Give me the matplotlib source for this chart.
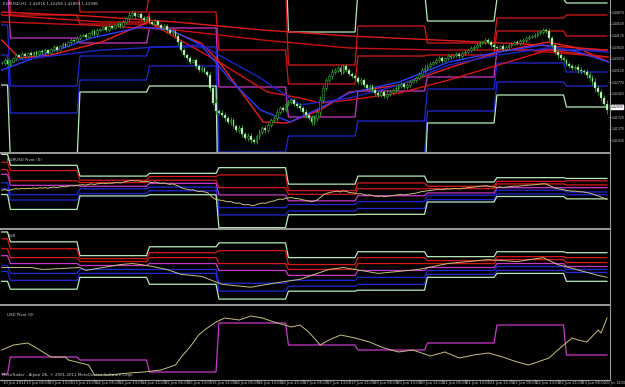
import numpy as np
import matplotlib
matplotlib.use("Agg")
import matplotlib.pyplot as plt
from matplotlib.lines import Line2D

# ---------------- data ----------------
close = [1.4334,1.4343,1.4331,1.4337,
         1.4349,1.4358,1.4352,1.4361,
         1.4355,1.4364,1.4358,1.4367,1.4361,1.4370,
         1.4367,1.4373,1.4364,1.4376,1.4382,1.4373,1.4385,
         1.4391,1.4385,1.4397,1.4403,1.4400,1.4409,1.4415,
         1.4418,1.4412,1.4424,1.4430,1.4421,1.4433,1.4436,
         1.4442,1.4433,1.4445,1.4439,1.4448,1.4451,1.4445,
         1.4457,1.4469,1.4478,1.4484,1.4475,1.4481,
         1.4469,1.4463,1.4472,1.4457,1.4451,1.4460,
         1.4448,1.4439,1.4445,1.4433,1.4424,1.4430,
         1.4415,1.4397,1.4373,1.4358,1.4349,
         1.4337,1.4343,1.4325,1.4313,1.4319,1.4307,
         1.4298,1.4260,1.4215,1.4190,1.4185,
         1.4178,1.4169,1.4157,1.4163,1.4145,
         1.4133,1.4139,1.4121,1.4109,1.4115,1.4103,1.4097,
         1.4115,1.4127,1.4139,1.4133,1.4148,
         1.4163,1.4169,1.4187,1.4199,1.4193,1.4211,1.4217,
         1.4223,1.4211,1.4205,1.4199,1.4187,1.4178,1.4169,
         1.4157,1.4169,1.4187,1.4223,
         1.4259,1.4283,1.4295,1.4307,
         1.4313,1.4319,1.4307,1.4325,1.4313,1.4301,
         1.4295,1.4289,1.4277,1.4283,1.4268,1.4259,1.4265,
         1.4253,1.4244,1.4238,1.4247,1.4235,1.4241,
         1.4247,1.4253,1.4259,1.4265,1.4271,1.4262,1.4268,
         1.4277,1.4283,1.4289,1.4301,1.4313,1.4319,
         1.4325,1.4331,1.4337,1.4343,1.4349,1.4340,
         1.4349,1.4355,1.4352,1.4358,1.4361,1.4355,1.4364,1.4367,
         1.4373,1.4379,1.4382,1.4388,1.4394,1.4397,1.4403,
         1.4397,1.4388,1.4382,1.4379,1.4385,1.4376,1.4382,
         1.4388,1.4391,1.4397,1.4394,1.4400,1.4403,1.4409,
         1.4412,1.4415,1.4418,1.4424,1.4427,1.4433,1.4430,
         1.4409,1.4388,1.4367,1.4358,1.4349,1.4343,
         1.4331,1.4325,1.4319,1.4322,1.4313,1.4310,1.4307,
         1.4298,1.4289,1.4277,1.4259,1.4247,1.4229,1.4211,1.4193]

wick_pips = [4,6,3,5,4,7,3,5,6,4, 5,3,6,4,5,7,4,3,6,5, 4,6,5,3,7,4,5,6,3,5,
             4,6,5,7,3,4,6,5,4,3, 6,5,7,4,8,5,6,4,5,7, 4,6,3,5,4,6,5,7,4,6,
             5,8,6,7,5,6,4,7,5,6, 4,7,9,8,10,6,7,8,6,9, 7,6,8,9,7,10,8,6,7,9,
             6,8,7,5,6,8,7,6,5,7, 6,5,7,8,6,9,7,10,8,9, 11,8,7,6,9,7,6,8,5,7,
             6,5,7,6,8,5,6,7,5,6, 7,5,6,8,5,7,6,5,7,6, 5,6,4,7,5,6,8,5,6,4,
             5,7,6,4,5,6,4,5,7,5, 6,4,5,7,6,5,4,6,5,7, 5,6,4,5,6,7,5,4,6,5,
             6,5,7,4,6,5,7,6,5,8, 7,6,8,5,7,6,5,7,6,8, 9,7,10,8,9,11,8,9,10,12]

bars_per_day = [3, 24, 24, 24, 24, 24, 24, 24, 24, 15]   # 10 Jun .. 23 Jun

# daily pivot levels (EURUSD)
piv_R3 = [1.4883, 1.4715, 1.4550, 1.4592, 1.4679, 1.4427, 1.4550, 1.4460, 1.4526, 1.4514]
piv_R2 = [1.4763, 1.4634, 1.4487, 1.4544, 1.4568, 1.4328, 1.4445, 1.4394, 1.4469, 1.4478]
piv_R1 = [1.4649, 1.4478, 1.4451, 1.4487, 1.4373, 1.4271, 1.4355, 1.4358, 1.4430, 1.4415]
piv_P  = [1.4577, 1.4409, 1.4394, 1.4439, 1.4262, 1.4172, 1.4250, 1.4292, 1.4373, 1.4373]
piv_S1 = [1.4448, 1.4265, 1.4355, 1.4382, 1.4067, 1.4115, 1.4160, 1.4256, 1.4334, 1.4307]
piv_S2 = [1.4358, 1.4184, 1.4283, 1.4325, 1.3956, 1.4016, 1.4055, 1.4190, 1.4277, 1.4265]
piv_S3 = [1.4268, 1.4040, 1.4247, 1.4265, 1.3761, 1.3959, 1.3965, 1.4154, 1.4238, 1.4202]

# moving averages (vertices: bar index, price)
ma_red1_x = [0, 30, 60, 90, 120, 150, 180, 209]
ma_red1_y = [1.4487, 1.4475, 1.4457, 1.4433, 1.4415, 1.4403, 1.4391, 1.4373]
ma_red2_x = [0, 30, 60, 90, 120, 150, 180, 209]
ma_red2_y = [1.4457, 1.4448, 1.4433, 1.4403, 1.4379, 1.4373, 1.4373, 1.4352]
ma_red3_x = [0, 6, 17, 34.5, 50.6, 68.8, 74.6, 90.3, 98.6, 109.9, 120.1, 137.3, 154.4, 171.5, 188.6, 198.9, 209.5]
ma_red3_y = [1.4403, 1.4349, 1.4358, 1.4397, 1.4457, 1.4394, 1.4343, 1.4157, 1.4154, 1.4193, 1.4247, 1.4268, 1.4319, 1.4367, 1.4397, 1.4379, 1.4337]
ma_red4_x = [0, 34.5, 50.6, 75.6, 91.7, 103, 109.9, 120.1, 137.3, 154.4, 171.5, 188.6, 209.5]
ma_red4_y = [1.4478, 1.4457, 1.4457, 1.4334, 1.4247, 1.4229, 1.4214, 1.4223, 1.4244, 1.4283, 1.4328, 1.4373, 1.4352]
ma_blue1_x = [0, 14, 31, 48.2, 58.5, 68.8, 79, 89.3, 99.6, 109.9, 120.1, 137.3, 154.4, 171.5, 186.9, 198.9, 209.5]
ma_blue1_y = [1.4313, 1.4358, 1.4409, 1.4442, 1.4433, 1.4388, 1.4283, 1.4193, 1.4157, 1.4199, 1.4244, 1.4277, 1.4337, 1.4367, 1.4388, 1.4367, 1.4337]
ma_blue2_x = [0, 34.5, 68.8, 89.3, 103, 120.1, 137.3, 154.4, 171.5, 188.6, 209.5]
ma_blue2_y = [1.4337, 1.4373, 1.4388, 1.4289, 1.4208, 1.4229, 1.4268, 1.4328, 1.4358, 1.4379, 1.4367]

# EUR index pivot window (index points)
eur_R3 = [74, 64, 50, 59, 63, 48, 54, 49, 54, 53]
eur_R2 = [67, 57, 47, 53, 55, 41, 48, 45, 49, 48]
eur_R1 = [57, 48, 44, 48, 42, 36, 42, 42, 46, 43]
eur_P  = [50, 42, 40, 42, 35, 30, 35, 38, 42, 39]
eur_S1 = [40, 32, 36, 36, 22, 25, 28, 35, 39, 36]
eur_S2 = [34, 25, 32, 32, 14, 19, 21, 31, 35, 33]
eur_S3 = [24, 16, 28, 21, 6, 14, 15, 28, 32, 24]
eur_line_x = [0, 3, 10, 14, 21, 27, 29, 35, 41, 45, 48, 52, 57, 62, 69, 76, 86, 96, 103, 113, 118, 130, 144, 154, 168, 178, 187, 192, 206, 209]
eur_line_y = [38, 38, 38, 36, 37, 38, 35, 38, 41, 42, 41, 39, 36, 31, 29, 21, 18, 23, 26, 36, 38, 32, 36, 42, 46, 44, 48, 41, 30, 28]

# USD index pivot window
usd_P = [6, 23, 20, 8, 57, 35, 30, 37, 55, 25]
usd_line_x = [0, 4, 9, 12, 17, 22, 23, 30, 32, 37, 44, 49, 55, 60, 62, 65, 68, 70, 74, 77, 82, 86, 90, 94, 100, 103, 106, 110, 113, 117,
              122, 127, 132, 137, 142, 148, 153, 158, 163, 168, 173, 178, 182, 185, 189, 192, 194, 197, 199, 202, 206, 207, 209]
usd_line_y = [30, 35, 37, 32, 23, 23, 20, 15, 5, 5, 7, 8, 10, 15, 23, 33, 45, 50, 58, 62, 60, 64, 62, 58, 53, 55, 48, 35, 40, 45,
              42, 38, 32, 28, 30, 24, 28, 22, 25, 27, 23, 18, 15, 18, 22, 30, 35, 42, 40, 38, 50, 47, 62]

time_labels = ["10 Jun 2011", "13 Jun 05:00", "13 Jun 13:00", "13 Jun 21:00", "14 Jun 05:00", "14 Jun 13:00",
               "14 Jun 21:00", "15 Jun 05:00", "15 Jun 13:00", "15 Jun 21:00", "16 Jun 05:00", "16 Jun 13:00",
               "16 Jun 21:00", "17 Jun 05:00", "17 Jun 13:00", "17 Jun 21:00", "20 Jun 05:00", "20 Jun 13:00",
               "20 Jun 21:00", "21 Jun 05:00", "21 Jun 13:00", "21 Jun 21:00", "22 Jun 05:00", "22 Jun 13:00",
               "22 Jun 21:00", "23 Jun 05:00", "23 Jun 14:00"]
time_ticks = [0, 8, 16, 24, 32, 40, 48, 56, 64, 72, 80, 88, 96, 104, 112, 120, 128, 136, 144, 152, 160, 168,
              176, 184, 192, 200, 209]

price_ticks = [1.44870, 1.44520, 1.44170, 1.43820, 1.43470, 1.43120, 1.42770, 1.42420, 1.42070, 1.41720, 1.41370, 1.41020]

# ---------------- style ----------------
plt.rcParams['font.family'] = ['Liberation Sans Narrow', 'DejaVu Sans']
BG = "black"
C_PALE = "#b8eab8"
C_RED = "#d81818"
C_MAG = "#c838c8"
C_BLUE = "#2028d8"
C_OLIVE = "#c8c07a"
C_GRID = "#9a9a9a"
C_TXT = "#d0d0d0"
C_CANDLE = "#2fae2f"
FS = 2.9
FS_TIME = 2.7
FS_LAST = 2.2
FS_PRICE = 2.25
RIGHT = 609

W, H = 625, 387
fig = plt.figure(figsize=(W / 100, H / 100), dpi=100, facecolor=BG)

def axes_px(top, bottom, right=RIGHT):
    return fig.add_axes([0, 1 - bottom / H, right / W, (bottom - top) / H], facecolor=BG)

ax1 = axes_px(0, 152)
ax2 = axes_px(154, 228)
ax3 = axes_px(230, 304)
ax4 = axes_px(306, 379)

N = len(close)
xb = np.arange(N)
opens = np.array([close[0]] + close[:-1])
closes = np.array(close)
wk = np.array(wick_pips) / 10000.0
highs = np.maximum(opens, closes) + wk
lows = np.minimum(opens, closes) - wk

def per_bar(levels):
    return np.repeat(levels, bars_per_day)

for ax in (ax1, ax2, ax3, ax4):
    ax.set_xlim(-0.6, N - 0.3)
    for s in ax.spines.values():
        s.set_visible(False)
    ax.tick_params(left=False, bottom=False, labelbottom=False, labelleft=False)

# --- main chart: pivots ---
def draw_pivots(ax, R3, R2, R1, P, S1, S2, S3, lw=0.9):
    for lev, col in ((R3, C_PALE), (R2, C_RED), (R1, C_RED), (P, C_MAG),
                     (S1, C_BLUE), (S2, C_BLUE), (S3, C_PALE)):
        ax.plot(xb, per_bar(lev), color=col, lw=lw, solid_joinstyle="miter", zorder=2)

draw_pivots(ax1, piv_R3, piv_R2, piv_R1, piv_P, piv_S1, piv_S2, piv_S3)

# moving averages
for mx, my, col in ((ma_red1_x, ma_red1_y, "#e01a1a"), (ma_red2_x, ma_red2_y, "#c81010"),
                    (ma_red3_x, ma_red3_y, "#f02020"), (ma_red4_x, ma_red4_y, "#d81414"),
                    (ma_blue1_x, ma_blue1_y, "#2a3cff"), (ma_blue2_x, ma_blue2_y, "#1a24c8")):
    ax1.plot(mx, my, color=col, lw=1.0, zorder=3)

# candles
ax1.vlines(xb, lows, highs, color=C_CANDLE, lw=0.6, zorder=4)
up = closes >= opens
body_lo = np.minimum(opens, closes)
body_h = np.maximum(np.abs(closes - opens), 0.00004)
ax1.bar(xb[~up], body_h[~up], bottom=body_lo[~up], width=0.62, color="#f2f2f2",
        edgecolor=C_CANDLE, linewidth=0.3, zorder=5)
ax1.bar(xb[up], body_h[up], bottom=body_lo[up], width=0.62, color="black",
        edgecolor=C_CANDLE, linewidth=0.4, zorder=5)

YLO, YHI = 1.4067, 1.4523
ax1.set_ylim(YLO, YHI)
ax1.yaxis.tick_right()
ax1.set_yticks(price_ticks)
ax1.set_yticklabels([f"{p:.5f}" for p in price_ticks])
ax1.tick_params(axis="y", right=True, labelright=True, length=1.2, width=0.5, color=C_GRID,
                labelsize=FS_PRICE, labelcolor=C_TXT, pad=0.4)
# current price box
cur = close[-1] + 0.0009
ax1.text(1.002, (cur - YLO) / (YHI - YLO), f"{cur:.5f}",
         transform=ax1.transAxes, fontsize=FS_PRICE, color="black", va="center", ha="left",
         bbox=dict(boxstyle="square,pad=0.05", fc="white", ec="white"), clip_on=False)
fig.text(3 / W, 1 - 2 / H, "EURUSD,H1  1.42016 1.42258 1.41893 1.41996", fontsize=FS,
         color=C_TXT, va="top", ha="left")

# --- pane 2: EURUSD pivot (same levels, autoscaled) ---
draw_pivots(ax2, piv_R3, piv_R2, piv_R1, piv_P, piv_S1, piv_S2, piv_S3)
ax2.plot(xb, closes, color=C_OLIVE, lw=0.7, zorder=3)
all_lv = np.concatenate([piv_R3, piv_S3])
ax2.set_ylim(all_lv.min() - 0.0005, all_lv.max() + 0.0005)
ax2.text(0.012, 0.95, "EURUSD Pivot (0)", transform=ax2.transAxes, fontsize=FS, color=C_TXT, va="top")

# --- pane 3: EUR ---
draw_pivots(ax3, eur_R3, eur_R2, eur_R1, eur_P, eur_S1, eur_S2, eur_S3)
ax3.plot(eur_line_x, eur_line_y, color=C_OLIVE, lw=0.7, zorder=3)
ax3.set_ylim(1, 76)
ax3.text(0.012, 0.95, "EUR", transform=ax3.transAxes, fontsize=FS, color=C_TXT, va="top")

# --- pane 4: USD pivot ---
ax4.plot(xb, per_bar(usd_P), color=C_MAG, lw=0.9, zorder=2)
ax4.plot(usd_line_x, usd_line_y, color=C_OLIVE, lw=0.7, zorder=3)
ax4.set_ylim(1, 74)
ax4.text(0.012, 0.90, "USD Pivot (0)", transform=ax4.transAxes, fontsize=FS, color=C_TXT, va="top")
ax4.text(0.004, 0.03, "MetaTrader - Alpari UK, \u00a9 2001-2011 MetaQuotes Software Corp.",
         transform=ax4.transAxes, fontsize=FS, color=C_TXT, va="bottom")

# time axis: tick marks + labels placed to the right of each tick
ax4.set_xticks(time_ticks)
ax4.tick_params(axis="x", bottom=True, labelbottom=False, length=1.5, width=0.5, color=C_GRID)
for i, (t, lab) in enumerate(zip(time_ticks, time_labels)):
    if i < len(time_labels) - 1:
        ax4.annotate(lab, xy=(t, 0), xycoords=("data", "axes fraction"), xytext=(1.0, -1.2),
                     textcoords="offset points", ha="left", va="top", fontsize=FS_TIME, color=C_TXT,
                     annotation_clip=False)
    else:
        ax4.annotate(lab, xy=(624.8 / RIGHT, 0), xycoords="axes fraction", xytext=(0, -1.4),
                     textcoords="offset points", ha="right", va="top", fontsize=FS_LAST, color=C_TXT,
                     annotation_clip=False)

# separators / frame
def hline_px(y, x0=0, x1=RIGHT, lw=1.2):
    fig.add_artist(Line2D([x0 / W, x1 / W], [1 - y / H, 1 - y / H], color=C_GRID, lw=lw))

for yy in (153, 229, 305):
    hline_px(yy, lw=1.4)
hline_px(379.5, lw=0.8)
fig.add_artist(Line2D([(RIGHT + 0.5) / W, (RIGHT + 0.5) / W], [1 - 380 / H, 1], color=C_GRID, lw=0.8))

fig.savefig("out.png", dpi=100, facecolor=BG)
